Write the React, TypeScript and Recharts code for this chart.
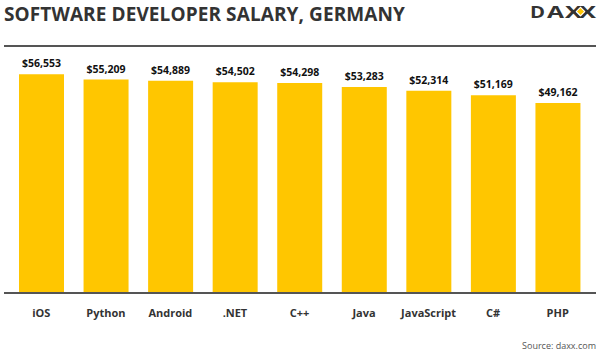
import { BarChart, Bar, XAxis, YAxis, LabelList } from "recharts"

const languages = ["iOS", "Python", "Android", ".NET", "C++", "Java", "JavaScript", "C#", "PHP"]
const salaries = [56553, 55209, 54889, 54502, 54298, 53283, 52314, 51169, 49162]

const data = languages.map((name, i) => ({ name, salary: salaries[i] }))

const YELLOW = "#FFC600"
const DARK = "#333333"
const FONT = "'Open Sans', sans-serif"

const money = (v: number) => "$" + v.toLocaleString("en-US")

export default function App() {
  return (
    <div
      style={{
        position: "absolute",
        left: 0,
        top: 0,
        width: 600,
        height: 351,
        background: "#fff",
        fontFamily: FONT,
        overflow: "hidden",
      }}
    >
      <div
        style={{
          position: "absolute",
          left: 4,
          top: 0,
          fontSize: 19,
          fontWeight: 700,
          color: DARK,
          letterSpacing: 0.1,
          lineHeight: "28px",
          whiteSpace: "nowrap",
        }}
      >
        SOFTWARE DEVELOPER SALARY, GERMANY
      </div>

      {/* logo */}
      <svg style={{ position: "absolute", left: 520, top: 0 }} width={80} height={24}>
        <g fontFamily={FONT} fontWeight={700} fontSize={16} fill={DARK}>
          <text x={10} y={17.5} textLength={15} lengthAdjust="spacingAndGlyphs">D</text>
          <text x={27} y={17.5} textLength={17} lengthAdjust="spacingAndGlyphs">A</text>
          <text x={45} y={17.5} textLength={17} lengthAdjust="spacingAndGlyphs">X</text>
          <text x={59} y={17.5} textLength={17} lengthAdjust="spacingAndGlyphs">X</text>
        </g>
        <rect x={57.5} y={8.5} width={6} height={6} fill={YELLOW} stroke="#fff" strokeWidth={1}
          transform="rotate(45 60.5 11.5)" />
      </svg>

      <div
        style={{
          position: "absolute",
          left: 4,
          width: 592,
          top: 45,
          height: 2,
          background: "#555",
        }}
      />

      <div style={{ position: "absolute", left: 0, top: 0 }}>
        <BarChart
          width={600}
          height={351}
          data={data}
          margin={{ top: 61, right: 4, bottom: 28, left: 4 }}
          barCategoryGap={10}
        >
          <XAxis
            dataKey="name"
            height={30}
            padding={{ left: 5, right: 6 }}
            tickLine={false}
            tickMargin={10}
            axisLine={{ stroke: "#555", strokeWidth: 2 }}
            tick={{ fill: DARK, fontSize: 11, fontWeight: 700, fontFamily: FONT }}
            interval={0}
          />
          <YAxis hide domain={[0, 60000]} />
          <Bar dataKey="salary" fill={YELLOW} isAnimationActive={false}>
            <LabelList
              dataKey="salary"
              position="top"
              offset={7}
              formatter={(v: any) => money(Number(v))}
              style={{ fill: "#111", fontSize: 10.5, fontWeight: 700, fontFamily: FONT }}
            />
          </Bar>
        </BarChart>
      </div>

      <div
        style={{
          position: "absolute",
          right: 4,
          top: 339,
          fontSize: 9,
          color: "#555",
          whiteSpace: "nowrap",
        }}
      >
        Source: daxx.com
      </div>
    </div>
  )
}
